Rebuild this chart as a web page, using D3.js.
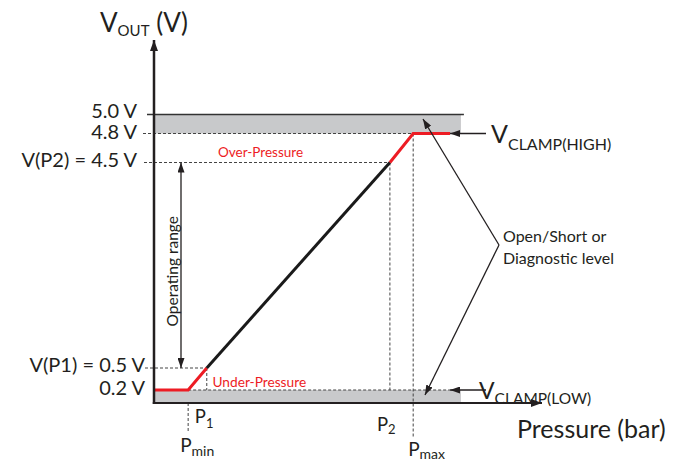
<!DOCTYPE html>
<html><head><meta charset="utf-8">
<script src="https://cdn.jsdelivr.net/npm/d3@7/dist/d3.min.js"></script>
<style>body{margin:0;background:#fff}svg{display:block}text{font-family:Lato,"Noto Sans",sans-serif;fill:#231f20}</style>
</head><body>
<script>
// ---- data (schematic transfer function) ----
const yTickValues = [5.0, 4.8, 4.5, 0.5, 0.2];
const yTickLabels = ["5.0 V", "4.8 V", "V(P2) = 4.5 V", "V(P1) = 0.5 V", "0.2 V"];
// pressure points (arbitrary schematic units 0..100)
const pNames  = ["Pmin", "P1", "P2", "Pmax"];
const pValues = [8.8, 13.6, 60.8, 66.8];
const clampEnd = 76.3, bandEnd = 79.1;
// output curve: [pressure, voltage]
const curveUnder = [[0, 0.2], [8.8, 0.2], [13.6, 0.5]];
const curveLinear = [[13.6, 0.5], [60.8, 4.5]];
const curveOver = [[60.8, 4.5], [66.8, 4.8], [76.3, 4.8]];
const bandHigh = [4.8, 5.0], bandLow = [0, 0.2];

const W = 683, H = 462;
const svg = d3.select("body").append("svg").attr("width", W).attr("height", H);
const defs = svg.append("defs");
function marker(id, w, l) {
  defs.append("marker").attr("id", id).attr("viewBox", `0 -${w/2} ${l} ${w}`)
    .attr("refX", l).attr("refY", 0).attr("markerWidth", l).attr("markerHeight", w)
    .attr("markerUnits", "userSpaceOnUse").attr("orient", "auto-start-reverse")
    .append("path").attr("d", `M0,-${w/2}L${l},0L0,${w/2}Z`).attr("fill", "#231f20");
}
marker("ah", 8, 11);
marker("ahs", 7, 10);

// scales: x linear (schematic), y piecewise linear (schematic, not to scale)
const x = d3.scaleLinear().domain([0, 100]).range([154, 542]);
const y = d3.scaleLinear().domain([0, 0.2, 0.5, 4.5, 4.8, 5.0]).range([403, 390, 368, 162.5, 133.5, 114.5]);
const line = d3.line().x(d => x(d[0])).y(d => y(d[1]));

// gray bands
svg.append("rect").attr("x", x(0)).attr("y", y(bandHigh[1])).attr("width", x(bandEnd) - x(0))
  .attr("height", y(bandHigh[0]) - y(bandHigh[1])).attr("fill", "#c8c9cb");
svg.append("rect").attr("x", x(0)).attr("y", y(bandLow[1])).attr("width", x(bandEnd) - x(0))
  .attr("height", y(bandLow[0]) - y(bandLow[1])).attr("fill", "#c8c9cb");
svg.append("line").attr("x1", 147).attr("x2", x(bandEnd) + 3).attr("y1", y(5.0)).attr("y2", y(5.0))
  .attr("stroke", "#333").attr("stroke-width", 1.4);

// dotted guides
const dash = {stroke: "#444", "stroke-width": 1, "stroke-dasharray": "3,2"};
function dl(x1, y1, x2, y2) {
  const l = svg.append("line").attr("x1", x1).attr("y1", y1).attr("x2", x2).attr("y2", y2);
  for (const k in dash) l.attr(k, dash[k]);
}
dl(143, y(4.8), x(pValues[3]), y(4.8));
dl(144, y(4.5), x(pValues[2]), y(4.5));
dl(145, y(0.5), x(pValues[1]), y(0.5));
dl(x(pValues[0]), y(0.2), x(clampEnd), y(0.2));
dl(x(pValues[1]), y(0.5), x(pValues[1]), y(0.2));
dl(x(pValues[0]), y(0), x(pValues[0]), 433);
dl(x(pValues[2]), y(4.5), x(pValues[2]), y(0.2));
dl(x(pValues[3]), y(4.8), x(pValues[3]), 437);

// curve
svg.append("path").attr("d", line(curveUnder)).attr("fill", "none").attr("stroke", "#ed1c24").attr("stroke-width", 3);
svg.append("path").attr("d", line(curveLinear)).attr("fill", "none").attr("stroke", "#1a1a1a").attr("stroke-width", 3);
svg.append("path").attr("d", line(curveOver)).attr("fill", "none").attr("stroke", "#ed1c24").attr("stroke-width", 3);

// axes
svg.append("line").attr("x1", x(0)).attr("y1", y(0) + 1).attr("x2", x(0)).attr("y2", 40)
  .attr("stroke", "#231f20").attr("stroke-width", 2.5).attr("marker-end", "url(#ah)");
svg.append("line").attr("x1", x(0) - 1.2).attr("y1", y(0)).attr("x2", x(100)).attr("y2", y(0))
  .attr("stroke", "#231f20").attr("stroke-width", 2).attr("marker-end", "url(#ah)");

// operating range arrow
svg.append("line").attr("x1", 181).attr("x2", 181).attr("y1", y(4.5)).attr("y2", y(0.5))
  .attr("stroke", "#231f20").attr("stroke-width", 1.3)
  .attr("marker-start", "url(#ahs)").attr("marker-end", "url(#ahs)");
svg.append("text").attr("transform", `translate(177.5,${(y(4.5) + y(0.5)) / 2 + 6}) rotate(-90)`)
  .attr("text-anchor", "middle").attr("font-size", 15.5).text("Operating range");

// clamp arrows
[4.8, 0.2].forEach(v => {
  svg.append("line").attr("x1", 486).attr("x2", x(clampEnd)).attr("y1", y(v)).attr("y2", y(v))
    .attr("stroke", "#231f20").attr("stroke-width", 1.3).attr("marker-end", "url(#ahs)");
});
// callout
svg.append("line").attr("x1", 499).attr("y1", 245).attr("x2", 423).attr("y2", 119)
  .attr("stroke", "#231f20").attr("stroke-width", 1.3).attr("marker-end", "url(#ahs)");
svg.append("line").attr("x1", 499).attr("y1", 245).attr("x2", 425).attr("y2", 395)
  .attr("stroke", "#231f20").attr("stroke-width", 1.3).attr("marker-end", "url(#ahs)");

// y tick labels
const tickDy = [3.5, 5, 4.5, 4, 5];
yTickValues.forEach((v, i) => {
  svg.append("text").attr("x", v > 1 ? 137 : 145).attr("y", y(v) + tickDy[i])
    .attr("text-anchor", "end").attr("font-size", 20).text(yTickLabels[i]);
});

// titles
const yt = svg.append("text").attr("x", 100).attr("y", 32).attr("font-size", 26);
yt.append("tspan").text("V");
yt.append("tspan").attr("font-size", 15).attr("dy", 4).text("OUT");
yt.append("tspan").attr("dy", -4).text(" (V)");
svg.append("text").attr("x", 517).attr("y", 438).attr("font-size", 25).text("Pressure (bar)");

function sub(xp, yp, main, s, fs, sfs, dy) {
  const t = svg.append("text").attr("x", xp).attr("y", yp).attr("font-size", fs);
  t.append("tspan").text(main);
  t.append("tspan").attr("font-size", sfs).attr("dy", dy).text(s);
  return t;
}
sub(x(pValues[1]) - 12, 422.5, "P", "1", 18.5, 13, 5);
sub(x(pValues[0]) - 8, 451.5, "P", "min", 19, 14, 4);
sub(x(pValues[2]) - 13, 430.5, "P", "2", 18.5, 13, 3);
sub(x(pValues[3]) - 5, 455.5, "P", "max", 19, 14, 3);
sub(491, 142.5, "V", "CLAMP(HIGH)", 25, 16, 7);
sub(479, 398.5, "V", "CLAMP(LOW)", 23, 15.5, 5);

svg.append("text").attr("x", 218).attr("y", 156.5).attr("font-size", 13.5).style("fill", "#ed1c24").text("Over-Pressure");
svg.append("text").attr("x", 212.5).attr("y", 386.5).attr("font-size", 13.7).style("fill", "#ed1c24").text("Under-Pressure");
svg.append("text").attr("x", 503).attr("y", 241.5).attr("font-size", 16).text("Open/Short or");
svg.append("text").attr("x", 503).attr("y", 264).attr("font-size", 16).text("Diagnostic level");
</script>
</body></html>
